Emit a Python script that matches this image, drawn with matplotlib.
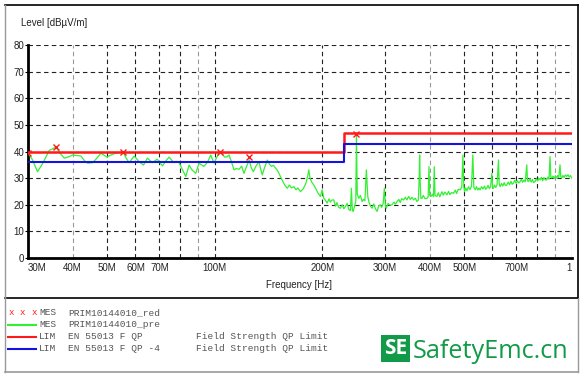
import matplotlib
matplotlib.use("Agg")
import matplotlib.pyplot as plt
from matplotlib.patches import Rectangle
from matplotlib.lines import Line2D

# ---------------- data ----------------
freq_pre = [30.0, 30.5, 30.9, 31.9, 33.0, 34.4, 35.2, 35.9, 36.8, 37.9, 39.0, 40.0, 41.0, 42.2, 43.2, 44.1,
            45.5, 46.8, 48.0, 49.9, 51.5, 52.9, 54.2, 55.4, 56.5, 57.6, 59.5, 61.4, 63.2, 64.8, 66.9, 68.0,
            69.1, 71.4, 73.0, 74.5, 76.9, 78.0, 79.5, 81.0, 83.0, 84.8, 86.5, 88.5, 90.4, 93.3, 95.5, 97.5,
            98.6, 99.6, 101.5, 103.7, 106.7, 108.2, 109.7, 111.5, 113.3, 115.0, 117.0, 119.0, 120.8, 122.5,
            125.0, 126.5, 128.3, 130.5, 133.0, 134.5, 135.9, 138.0, 140.4, 142.0, 144.1, 146.0, 148.1, 150.5,
            152.9, 155.5, 157.5, 159.7, 162.0, 164.0, 166.7, 169.0, 171.0, 174.0, 177.0, 180.0, 182.0, 183.5,
            185.0, 187.0, 189.5, 192.0, 194.5, 197.8, 200.0, 202.0, 204.0, 206.5, 209.0, 211.0, 213.0, 215.6,
            218.0, 220.0, 222.5, 225.0, 228.0, 230.0, 232.4, 235.0, 237.5, 240.0, 241.5, 243.0, 244.2, 246.3,
            248.5, 249.5, 250.8, 253.3, 256.0, 258.8, 261.0, 263.5, 266.0, 268.4, 270.5, 273.0, 276.0, 279.0,
            282.0, 285.0, 288.0, 291.1, 293.5, 296.5, 298.7, 300.8, 302.6, 306.0, 310.0, 313.9, 318.0, 321.0,
            324.1, 328.0, 331.0, 334.0, 338.3, 342.0, 345.5, 349.4, 353.0, 357.0, 360.8, 364.5, 368.6, 372.0,
            374.0, 375.0, 376.5, 378.0, 380.7, 384.0, 388.0, 393.2, 396.3, 398.3, 400.3, 403.5, 407.5, 410.2,
            412.1, 414.2, 419.4, 423.0, 427.0, 433.1, 437.0, 441.0, 447.3, 452.0, 456.0, 461.0, 466.9, 472.0,
            476.0, 481.0, 487.3, 492.0, 495.8, 498.5, 501.2, 505.0, 509.0, 514.0, 519.0, 524.0, 528.5, 532.0,
            536.6, 541.0, 546.0, 550.0, 554.1, 559.0, 564.0, 570.0, 574.0, 578.4, 583.0, 588.0, 593.0, 597.4,
            600.5, 603.8, 608.0, 613.0, 618.0, 623.6, 626.5, 630.3, 636.0, 641.0, 647.0, 652.0, 658.0, 664.0,
            670.0, 676.0, 681.0, 686.8, 693.0, 699.0, 705.0, 711.0, 717.0, 723.0, 729.0, 735.0, 741.0, 748.4,
            752.0, 756.5, 763.0, 770.0, 776.0, 782.0, 789.6, 796.0, 803.0, 809.0, 815.5, 822.0, 829.0, 836.0,
            843.0, 851.1, 858.0, 864.0, 869.6, 874.0, 879.0, 886.0, 893.0, 900.0, 907.8, 914.0, 920.0, 927.4,
            932.0, 937.6, 945.0, 952.0, 960.0, 968.2, 976.0, 984.0, 992.0, 1000.0]
level_pre = [39.4, 38.0, 36.8, 32.4, 35.6, 40.4, 41.0, 41.8, 39.5, 37.5, 38.0, 38.7, 38.5, 38.3, 36.5, 35.6,
             35.8, 37.5, 39.4, 37.9, 38.8, 39.4, 39.6, 39.8, 37.5, 35.8, 38.3, 36.2, 34.9, 37.5, 35.8, 36.5,
             37.1, 34.6, 36.5, 37.9, 35.8, 36.3, 35.8, 33.5, 30.6, 34.9, 33.0, 31.8, 35.6, 34.4, 36.0, 38.7,
             37.0, 35.6, 38.0, 39.8, 37.9, 38.0, 38.7, 36.0, 33.1, 33.6, 33.3, 34.5, 31.8, 34.0,
             36.8, 34.0, 32.4, 34.5, 36.2, 33.5, 31.2, 34.0, 36.8, 35.5, 34.4, 34.8, 33.8, 32.5,
             30.5, 28.5, 27.2, 26.2, 27.4, 26.3, 26.8, 25.6, 26.3, 24.9, 26.0, 28.0, 30.5, 33.1,
             30.0, 28.5, 27.4, 26.0, 24.5, 23.1, 25.6, 22.5, 21.8, 20.6, 22.2, 21.0, 21.8, 21.8,
             19.5, 20.8, 19.0, 18.7, 20.0, 18.5, 19.3, 20.5, 18.2, 17.8, 26.2, 18.0, 17.5, 19.3,
             21.5, 46.2, 24.0, 22.4, 23.5, 21.2, 22.0, 21.5, 33.1, 23.1, 21.0, 19.5, 18.7, 20.3,
             18.5, 17.5, 19.5, 20.0, 19.0, 20.5, 26.2, 19.5, 18.7, 20.5, 19.8, 20.0, 21.0, 20.2,
             21.2, 22.0, 20.8, 22.3, 21.8, 22.8, 21.8, 23.1, 22.0, 22.8, 21.8, 22.5, 21.2, 21.8,
             30.0, 38.7, 28.0, 22.4, 22.4, 23.5, 22.3, 22.4, 23.0, 34.3, 23.5, 23.1, 24.0, 23.0,
             34.3, 23.5, 23.1, 24.5, 23.0, 24.9, 23.6, 24.8, 23.7, 25.0, 23.8, 24.6, 24.3, 25.5,
             24.2, 25.8, 25.6, 26.5, 38.7, 27.0, 24.9, 26.3, 25.2, 26.8, 25.7, 27.0, 38.7, 26.5,
             25.6, 26.8, 25.5, 26.3, 25.6, 26.8, 25.9, 27.0, 25.8, 26.2, 27.3, 26.0, 27.0, 31.8,
             26.5, 26.2, 27.4, 26.5, 27.6, 36.8, 27.8, 26.8, 28.0, 27.0, 28.3, 27.2, 27.4, 28.5,
             27.5, 28.8, 27.7, 28.1, 29.2, 28.0, 29.0, 28.2, 28.7, 29.6, 28.4, 29.3, 28.6, 35.0,
             29.0, 28.7, 29.8, 28.5, 29.5, 28.3, 28.7, 29.8, 28.9, 30.0, 29.3, 30.3, 29.0, 30.2,
             29.4, 29.3, 30.4, 29.6, 38.1, 30.5, 30.0, 30.8, 29.8, 30.9, 30.0, 31.0, 30.2, 35.0,
             30.5, 30.0, 31.0, 30.2, 31.2, 30.6, 31.3, 30.4, 31.0, 30.0]

freq_red = [30.0, 35.9, 55.4, 103.7, 125.0, 249.5]
level_red = [39.4, 41.8, 39.8, 39.8, 37.9, 46.5]

limit_freq = [30.0, 230.0, 230.0, 1000.0]
limit_qp = [40.0, 40.0, 47.0, 47.0]
limit_qp4 = [36.0, 36.0, 43.0, 43.0]

xtick_vals = [30, 40, 50, 60, 70, 100, 200, 300, 400, 500, 700, 1000]
xtick_labels = ["30M", "40M", "50M", "60M", "70M", "100M", "200M", "300M", "400M", "500M", "700M", "1"]
xgrid_vals = [40, 50, 60, 70, 80, 90, 100, 200, 300, 400, 500, 600, 700, 800, 900, 1000]
xgrid_grey = [40, 90, 400, 900]
ytick_vals = [0, 10, 20, 30, 40, 50, 60, 70, 80]

legend_rows = [
    ("MES", "PRIM10144010_red", ""),
    ("MES", "PRIM10144010_pre", ""),
    ("LIM", "EN 55013 F QP", "Field Strength QP Limit"),
    ("LIM", "EN 55013 F QP -4", "Field Strength QP Limit"),
]

# ---------------- figure ----------------
W, H = 585, 378
fig = plt.figure(figsize=(W / 100, H / 100), dpi=100)
fig.patch.set_facecolor("white")


def fx(x):
    return x / W


def fy(y):
    return 1 - y / H


GREEN = "#33f033"
RED = "#ff1a1a"
BLUE = "#1414dd"
TXT = "#222222"
LEG = "#555555"
LOGO = "#119a48"
FS = 7.0

ax = fig.add_axes([fx(28), fy(258), fx(571.7) - fx(28), fy(45) - fy(258)])
ax.set_xscale("log")
ax.set_xlim(30, 1000)
ax.set_ylim(0, 80)

for f in xgrid_vals:
    c = "#999999" if f in xgrid_grey else "#222222"
    ax.axvline(f, color=c, lw=0.8, linestyle=(0, (4, 3)), zorder=1)
for v in ytick_vals[1:]:
    ax.axhline(v, color="#222222", lw=0.8, linestyle=(0, (4, 3)), zorder=1)

ax.plot(freq_pre, level_pre, color=GREEN, lw=0.9, zorder=3)
ax.plot(limit_freq, limit_qp, color=RED, lw=1.8, zorder=4)
ax.plot(limit_freq, limit_qp4, color=BLUE, lw=1.5, zorder=4)
ax.plot(freq_red, level_red, linestyle="none", marker="x", color=RED, ms=4, mew=1.0, zorder=5)

for s in ["top", "right"]:
    ax.spines[s].set_visible(False)
for s in ["left", "bottom"]:
    ax.spines[s].set_linewidth(2)
    ax.spines[s].set_color("black")

ax.set_xticks(xtick_vals)
ax.set_xticklabels(xtick_labels)
ax.xaxis.set_minor_locator(matplotlib.ticker.NullLocator())
ax.set_yticks(ytick_vals)
ax.tick_params(axis="x", length=0, pad=3.5, labelsize=FS, labelcolor=TXT)
ax.tick_params(axis="y", length=2, width=0.8, pad=0.8, labelsize=FS, labelcolor=TXT)
for lab in ax.get_xticklabels() + ax.get_yticklabels():
    lab.set_fontfamily("Liberation Sans")
xl = ax.get_xticklabels()
xl[0].set_horizontalalignment("left")
xl[-1].set_horizontalalignment("right")

fig.text(fx(21), fy(23), "Level [dBµV/m]", fontsize=FS, family="Liberation Sans",
         color=TXT, ha="left", va="center")
fig.text(fx(299), fy(285), "Frequency [Hz]", fontsize=FS, family="Liberation Sans",
         color=TXT, ha="center", va="center")

# ---------------- frames ----------------
def hline(x0, x1, y, c, lw):
    fig.add_artist(Line2D([fx(x0), fx(x1)], [fy(y), fy(y)], color=c, lw=lw, transform=fig.transFigure))


def vline(x, y0, y1, c, lw):
    fig.add_artist(Line2D([fx(x), fx(x)], [fy(y0), fy(y1)], color=c, lw=lw, transform=fig.transFigure))


hline(5, 578, 5, "black", 1.2)
hline(5, 578, 298, "black", 1.2)
vline(578, 5, 298, "black", 1.2)
vline(5, 5, 298, "#999999", 1.0)
vline(5, 298, 372, "#999999", 1.0)
vline(578, 298, 372, "#999999", 1.0)
hline(5, 578, 372, "#999999", 1.2)

# ---------------- legend ----------------
row_y = [312.7, 324.5, 336.5, 348.5]
row_colors = [None, GREEN, RED, BLUE]
for i, (a, b, c) in enumerate(legend_rows):
    y = row_y[i]
    if i == 0:
        for xm in [11, 22.7, 34.3]:
            fig.text(fx(xm), fy(y), "x", fontsize=6.5, family="Liberation Mono", color=RED,
                     ha="center", va="center")
    else:
        fig.add_artist(Line2D([fx(8), fx(36)], [fy(y), fy(y)], color=row_colors[i], lw=1.5,
                              transform=fig.transFigure))
    fig.text(fx(39), fy(y), a, fontsize=6.8, family="Liberation Mono", color=LEG, ha="left", va="center")
    fig.text(fx(68), fy(y), b, fontsize=6.8, family="Liberation Mono", color=LEG, ha="left", va="center")
    if c:
        fig.text(fx(196), fy(y), c, fontsize=6.8, family="Liberation Mono", color=LEG, ha="left", va="center")

# ---------------- logo ----------------
fig.add_artist(Rectangle((fx(381), fy(362)), fx(410) - fx(381), fy(335) - fy(362),
                         facecolor=LOGO, edgecolor="none", transform=fig.transFigure))
fig.text(fx(395.5), fy(349), "SE", fontsize=15, family="Open Sans", weight="bold", color="white",
         ha="center", va="center")
fig.text(fx(413), fy(357.5), "SafetyEmc.cn", fontsize=18.2, family="Open Sans", color=LOGO,
         ha="left", va="baseline")

fig.savefig("out.png", dpi=100, facecolor="white")
